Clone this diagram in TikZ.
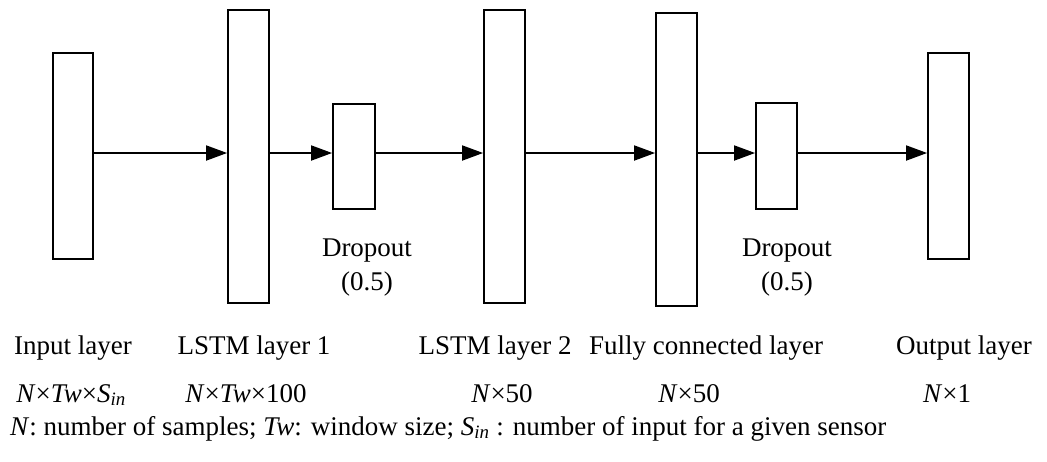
\documentclass[tikz,border=0pt]{standalone}
\usepackage{fontspec}
\setmainfont{Liberation Serif}
\usetikzlibrary{arrows.meta}
\begin{document}
\begin{tikzpicture}[x=1pt,y=-1pt,
  layer/.style={draw=black,line width=1.8pt,fill=white,rectangle,inner sep=0pt},
  arr/.style={line width=1.8pt,-{Triangle[length=21pt,width=15pt]}},
  lbl/.style={anchor=base,inner sep=0pt,font=\fontsize{27}{32}\selectfont}]
\useasboundingbox (0,0) rectangle (1047,461);
% layers
\node[layer,minimum width=40pt,minimum height=206pt] (in)  at (73,156) {};
\node[layer,minimum width=41pt,minimum height=293pt] (l1)  at (248.5,156.5) {};
\node[layer,minimum width=42pt,minimum height=105pt] (d1)  at (354,156.5) {};
\node[layer,minimum width=41pt,minimum height=293pt] (l2)  at (504.5,156.5) {};
\node[layer,minimum width=41pt,minimum height=293pt] (fc)  at (676.5,159.5) {};
\node[layer,minimum width=41pt,minimum height=106pt] (d2)  at (776.5,156) {};
\node[layer,minimum width=41pt,minimum height=206pt] (out) at (948.5,156) {};
\coordinate (lvl) at (0,153);
% connectors
\draw[arr] (in.east |- lvl) -- (l1.west |- lvl);
\draw[arr] (l1.east |- lvl) -- (d1.west |- lvl);
\draw[arr] (d1.east |- lvl) -- (l2.west |- lvl);
\draw[arr] (l2.east |- lvl) -- (fc.west |- lvl);
\draw[arr] (fc.east |- lvl) -- (d2.west |- lvl);
\draw[arr] (d2.east |- lvl) -- (out.west |- lvl);
% dropout labels
\node[lbl] (d1a) at (367,256) {Dropout};
\node[lbl] (d1b) at (367,290) {(0.5)};
\node[lbl] (d2a) at (787,256) {Dropout};
\node[lbl] (d2b) at (787,290) {(0.5)};
% layer names
\node[lbl] (n1) at (73,354) {Input layer};
\node[lbl] (n2) at (254,354) {LSTM layer 1};
\node[lbl] (n3) at (495,354) {LSTM layer 2};
\node[lbl] (n4) at (706,354) {Fully connected layer};
\node[lbl] (n5) at (964,354) {Output layer};
% shapes
\node[lbl] (s1) at (71,402) {\textit{N}×\textit{Tw}×\textit{S}\textsubscript{\textit{in}}};
\node[lbl] (s2) at (246,402) {\textit{N}×\textit{Tw}×100};
\node[lbl] (s3) at (502,402) {\textit{N}×50};
\node[lbl] (s4) at (689,402) {\textit{N}×50};
\node[lbl] (s5) at (947,402) {\textit{N}×1};
% legend
\node[lbl,anchor=base west] (leg) at (10,435) {\textit{N}: number of samples; \textit{Tw}: window size; \textit{S}\textsubscript{\textit{in}} : number of input for a given sensor};
\end{tikzpicture}
\end{document}
